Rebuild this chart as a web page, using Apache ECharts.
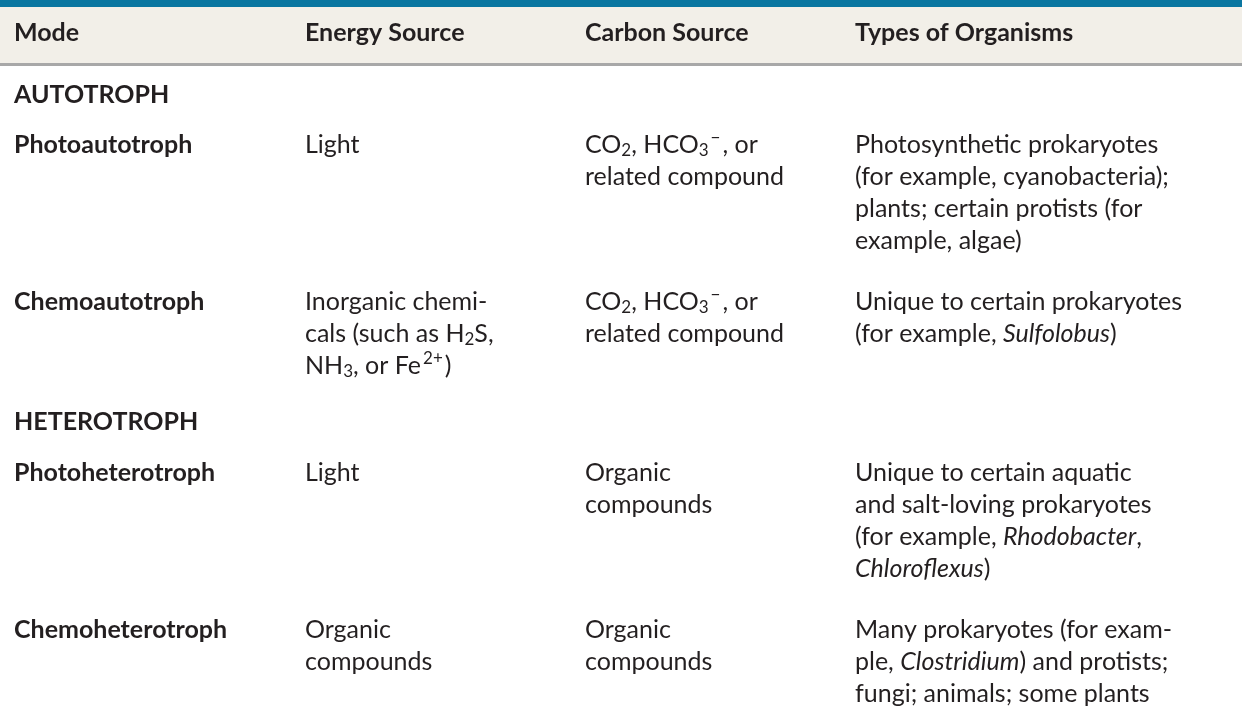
<!DOCTYPE html>
<html>
<head>
<meta charset="utf-8">
<script src="https://cdn.jsdelivr.net/npm/echarts@6/dist/echarts.min.js"></script>
<style>
  html, body { margin: 0; padding: 0; background: #fff; }
  #main { width: 1242px; height: 723px; }
</style>
</head>
<body>
<div id="main"></div>
<script>
// Table content, one array per column; each cell is a list of lines (rich markup)
const headers = ['Mode', 'Energy Source', 'Carbon Source', 'Types of Organisms'];
const groups = ['AUTOTROPH', 'HETEROTROPH'];
const modes = ['Photoautotroph', 'Chemoautotroph', 'Photoheterotroph', 'Chemoheterotroph'];
const energySources = [
    ['Light'],
    ['Inorganic chemi-', 'cals (such as H{sub|2}S,', 'NH{sub|3}, or Fe{sup|2+})'],
    ['Light'],
    ['Organic', 'compounds']
];
const carbonSources = [
    ['CO{sub|2}, HCO{sub|3}{sup|−}, or', 'related compound'],
    ['CO{sub|2}, HCO{sub|3}{sup|−}, or', 'related compound'],
    ['Organic', 'compounds'],
    ['Organic', 'compounds']
];
const organisms = [
    ['Photosynthetic prokaryotes', '(for example, cyanobacteria);', 'plants; certain protists (for', 'example, algae)'],
    ['Unique to certain prokaryotes', '(for example, {it|Sulfolobus})'],
    ['Unique to certain aquatic', 'and salt-loving prokaryotes', '(for example, {it|Rhodobacter},', '{it|Chloroflexus})'],
    ['Many prokaryotes (for exam-', 'ple, {it|Clostridium}) and protists;', 'fungi; animals; some plants']
];
// layout
const colX = [14, 305, 585, 855];
const rowTop = [145, 302, 473, 630];
const groupY = [95, 422];
const lineGap = 32;

const FONT = 'Lato, "Open Sans", sans-serif';
const SIZE = 25;
const rich = {
    sub: { fontSize: 17, fontFamily: FONT, fill: '#231f20', padding: [12, 0, 0, 0] },
    sup: { fontSize: 17, fontFamily: FONT, fill: '#231f20', padding: [0, 2, 14, 2] },
    it: { fontSize: SIZE, fontFamily: FONT, fill: '#231f20', fontStyle: 'italic' }
};

function txt(x, y, s, bold) {
    return {
        type: 'text', x: x, y: y,
        style: {
            text: s, fontSize: SIZE, fontFamily: FONT, fontWeight: bold ? 'bold' : 'normal',
            fill: '#231f20', verticalAlign: 'middle', align: 'left', rich: rich
        }
    };
}

const elements = [
    { type: 'rect', shape: { x: 0, y: 0, width: 1242, height: 7 }, style: { fill: '#0a76a0' } },
    { type: 'rect', shape: { x: 0, y: 7, width: 1242, height: 56 }, style: { fill: '#f2efe8' } },
    { type: 'rect', shape: { x: 0, y: 63, width: 1242, height: 3 }, style: { fill: '#a8a8a8' } }
];
headers.forEach((h, i) => elements.push(txt(colX[i], 33, h, true)));
groups.forEach((g, i) => elements.push(txt(colX[0], groupY[i], g, true)));
modes.forEach((m, r) => {
    elements.push(txt(colX[0], rowTop[r], m, true));
    [energySources[r], carbonSources[r], organisms[r]].forEach((cell, c) => {
        cell.forEach((line, k) => elements.push(txt(colX[c + 1], rowTop[r] + k * lineGap, line, false)));
    });
});

const chart = echarts.init(document.getElementById('main'));
chart.setOption({ animation: false, graphic: { elements: elements } });
</script>
</body>
</html>
